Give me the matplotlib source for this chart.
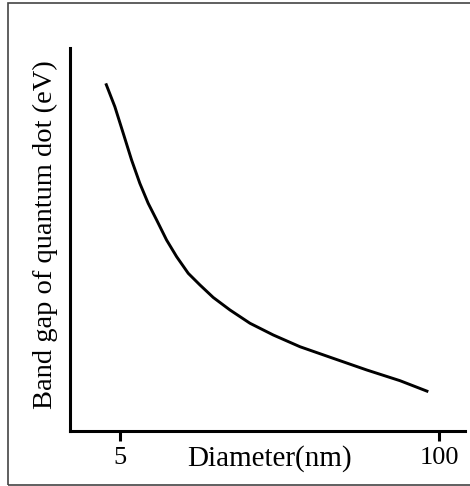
import matplotlib
matplotlib.use("Agg")
import matplotlib.pyplot as plt
from matplotlib.patches import Rectangle

# band gap vs. dot diameter (schematic, log diameter axis)
diameter_nm = [4.38, 4.77, 5.16, 5.58, 6.03, 6.52, 7.06, 7.75, 8.52, 9.50,
               10.60, 12.01, 14.05, 16.95, 21.10, 27.12, 37.06, 50.72, 69.33, 90.44]
band_gap_ev = [2.723, 2.540, 2.332, 2.123, 1.940, 1.784, 1.653, 1.496, 1.365, 1.235,
               1.144, 1.046, 0.948, 0.844, 0.752, 0.660, 0.569, 0.478, 0.394, 0.308]
x_ticks = [5, 100]
x_tick_labels = ["5", "100"]

plt.rcParams["font.family"] = ["Liberation Serif", "DejaVu Serif"]

fig = plt.figure(figsize=(4.70, 4.86), dpi=100)
ax = fig.add_axes([0.1489, 0.1132, 0.8404, 0.788])

ax.plot(diameter_nm, band_gap_ev, color="black", lw=2.1,
        solid_capstyle="butt", solid_joinstyle="round")

ax.set_xscale("log")
ax.set_xlim(3.13, 127.6)
ax.set_ylim(0, 3.0)
ax.set_xticks(x_ticks)
ax.set_xticklabels(x_tick_labels, fontsize=19)
ax.xaxis.set_minor_locator(matplotlib.ticker.NullLocator())
ax.set_yticks([])
ax.tick_params(axis="x", direction="out", length=7.5, width=2.2, pad=4)

for s in ["top", "right"]:
    ax.spines[s].set_visible(False)
for s in ["left", "bottom"]:
    ax.spines[s].set_linewidth(2.2)

ax.text(-0.063, 0.514, "Band gap of quantum dot (eV)", transform=ax.transAxes,
        rotation=90, ha="center", va="center", fontsize=20.5)
ax.text(0.506, -0.072, "Diameter(nm)", transform=ax.transAxes,
        ha="center", va="center", fontsize=21)

# thin frame around the figure
fig.patches.append(Rectangle((8 / 470, 1 / 486), 1.0, 482 / 486,
                             transform=fig.transFigure, fill=False,
                             edgecolor="#444444", lw=1.2))

fig.savefig("out.png", dpi=100)
